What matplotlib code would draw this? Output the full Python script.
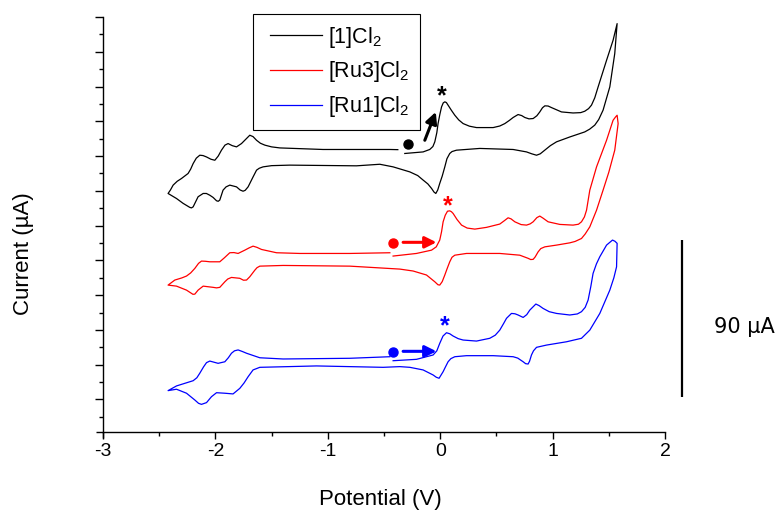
import matplotlib
matplotlib.use("Agg")
import matplotlib.pyplot as plt
from matplotlib.ticker import MultipleLocator, NullFormatter
from matplotlib.legend_handler import HandlerLine2D

plt.rcParams["font.family"] = ["Liberation Sans", "DejaVu Sans"]
plt.rcParams["mathtext.fontset"] = "custom"
plt.rcParams["mathtext.rm"] = "Liberation Sans"
plt.rcParams["mathtext.it"] = "Liberation Sans:italic"
plt.rcParams["mathtext.bf"] = "Liberation Sans:bold"
plt.rcParams["axes.unicode_minus"] = False

# ---------------------------------------------------------------------------
# Cyclic voltammograms (potential in V, current in uA, curves offset vertically)
# Each scan: start -> anodic sweep to +1.57 V -> cathodic sweep to -2.42 V -> back
# ---------------------------------------------------------------------------
labels = ["[1]Cl$_2$", "[Ru3]Cl$_2$", "[Ru1]Cl$_2$"]
colors = ["#000000", "#ff0000", "#0000ff"]

# [1]Cl2
l1_E = [-0.315, -0.152, -0.093, -0.065, -0.048, -0.030, -0.019, -0.003, 0.012, 0.027,
        0.041, 0.055, 0.070, 0.100, 0.130, 0.165, 0.204, 0.260, 0.323, 0.471,
        0.530, 0.575, 0.615, 0.649, 0.693, 0.725, 0.753, 0.790, 0.827, 0.860,
        0.886, 0.910, 0.931, 0.960, 0.990, 1.079, 1.182, 1.250, 1.286, 1.320,
        1.346, 1.375, 1.405, 1.480, 1.538, 1.574,
        1.553, 1.509, 1.449, 1.410, 1.375, 1.330, 1.286, 1.153, 1.035, 0.980,
        0.931, 0.890, 0.857, 0.815, 0.768, 0.649, 0.352, 0.145, 0.105, 0.085,
        0.060, 0.041, 0.018, -0.004, -0.022, -0.039, -0.055, -0.077, -0.110, -0.152,
        -0.200, -0.270, -0.419, -0.537, -0.745, -1.338, -1.500, -1.576, -1.610, -1.634,
        -1.665, -1.709, -1.735, -1.754, -1.780, -1.812, -1.872, -1.905, -1.932, -1.961,
        -1.975, -1.990, -2.020, -2.050, -2.080, -2.109, -2.154, -2.178, -2.198, -2.213,
        -2.228, -2.287, -2.346, -2.395, -2.421,
        -2.400, -2.376, -2.340, -2.302, -2.243, -2.220, -2.198, -2.170, -2.139, -2.110,
        -2.079, -2.040, -2.005, -1.975, -1.946, -1.915, -1.887, -1.850, -1.812, -1.768,
        -1.723, -1.694, -1.665, -1.634, -1.600, -1.560, -1.500, -1.427, -1.042, -0.448,
        -0.377]
l1_I = [161.5, 162.4, 163.8, 165.5, 168.2, 173.5, 178.7, 184.0, 188.3, 190.6,
        191.2, 190.8, 189.3, 186.3, 183.5, 180.8, 178.7, 177.2, 176.4, 176.4,
        177.3, 178.7, 180.5, 182.2, 183.9, 183.3, 182.2, 181.4, 181.6, 183.2,
        185.4, 187.8, 188.9, 188.8, 187.9, 185.4, 184.8, 185.0, 185.8, 187.3,
        189.3, 193.5, 199.8, 215.1, 226.6, 236.2,
        219.0, 199.8, 186.4, 181.0, 177.8, 175.5, 173.9, 171.0, 168.2, 166.0,
        163.4, 161.3, 160.5, 161.3, 162.4, 163.8, 164.4, 163.4, 162.6, 161.5,
        158.5, 153.8, 148.5, 144.3, 140.5, 138.5, 139.3, 141.4, 144.0, 146.2,
        148.8, 150.9, 153.8, 155.3, 154.4, 154.8, 154.5, 153.8, 153.0, 151.9,
        148.0, 142.3, 140.3, 139.8, 140.5, 142.3, 143.3, 142.3, 140.4, 134.7,
        134.0, 134.3, 136.2, 137.5, 138.5, 138.5, 136.6, 133.5, 130.8, 130.2,
        130.5, 132.8, 135.6, 137.5, 138.5,
        140.5, 143.3, 145.5, 147.1, 150.0, 152.5, 155.7, 158.8, 160.5, 160.3,
        159.5, 158.2, 157.6, 160.0, 163.4, 166.3, 167.2, 166.0, 165.3, 167.2,
        170.1, 172.0, 171.2, 169.1, 167.4, 166.3, 165.3, 164.7, 163.8, 163.8,
        163.7]

# [Ru3]Cl2
ru3_E = [-0.419, -0.211, -0.077, -0.035, -0.004, 0.012, 0.026, 0.045, 0.065, 0.085,
         0.100, 0.115, 0.150, 0.190, 0.240, 0.308, 0.412, 0.530, 0.570, 0.604,
         0.630, 0.664, 0.720, 0.768, 0.800, 0.827, 0.860, 0.886, 0.915, 0.960,
         1.064, 1.182, 1.230, 1.257, 1.283, 1.302, 1.331, 1.391, 1.480, 1.538,
         1.560, 1.574,
         1.583, 1.553, 1.500, 1.449, 1.391, 1.331, 1.290, 1.257, 1.200, 1.153,
         1.035, 0.931, 0.895, 0.871, 0.845, 0.827, 0.805, 0.782, 0.708, 0.530,
         0.234, 0.130, 0.105, 0.085, 0.063, 0.041, 0.018, -0.004, -0.020, -0.048,
         -0.122, -0.241, -0.359, -0.804, -1.398, -1.605, -1.630, -1.649, -1.694, -1.723,
         -1.750, -1.783, -1.857, -1.890, -1.916, -1.961, -1.990, -2.020, -2.109, -2.154,
         -2.183, -2.200, -2.257, -2.346, -2.421,
         -2.361, -2.300, -2.257, -2.220, -2.183, -2.150, -2.124, -2.090, -2.050, -1.961,
         -1.920, -1.872, -1.835, -1.798, -1.738, -1.700, -1.665, -1.630, -1.590, -1.456,
         -1.249, -0.804, -0.448]
ru3_I = [102.5, 104.0, 105.9, 107.8, 111.7, 116.5, 122.2, 126.0, 128.3, 128.5,
         128.0, 127.0, 123.5, 120.3, 118.6, 118.0, 119.0, 120.9, 122.8, 124.5,
         123.9, 122.2, 120.6, 120.3, 121.0, 122.2, 124.6, 125.5, 124.3, 122.2,
         120.7, 120.3, 120.8, 122.2, 125.0, 128.9, 140.4, 153.8, 169.1, 180.6,
         182.5, 183.5,
         178.7, 163.4, 150.7, 140.4, 128.9, 119.3, 115.2, 112.6, 110.9, 110.1,
         108.8, 107.8, 106.8, 104.9, 102.0, 100.6, 100.5, 101.2, 103.0, 104.0,
         104.0, 103.0, 101.8, 99.2, 95.5, 91.6, 87.8, 85.8, 86.0, 87.7,
         91.6, 93.9, 95.0, 96.7, 97.1, 96.7, 95.8, 94.4, 90.6, 88.7,
         88.6, 89.7, 90.2, 89.3, 87.7, 84.5, 84.2, 84.5, 85.2, 82.9,
         80.6, 80.5, 82.9, 85.2, 85.8,
         88.7, 89.9, 91.0, 92.8, 95.4, 98.3, 99.6, 99.5, 99.2, 99.2,
         101.5, 104.4, 104.5, 104.0, 105.9, 107.2, 108.2, 107.5, 106.3, 104.4,
         104.0, 104.0, 104.4]

# [Ru1]Cl2
ru1_E = [-0.419, -0.211, -0.063, -0.030, -0.004, 0.025, 0.056, 0.085, 0.115, 0.160,
         0.204, 0.323, 0.441, 0.490, 0.530, 0.565, 0.590, 0.634, 0.665, 0.693,
         0.738, 0.770, 0.797, 0.851, 0.880, 0.915, 0.970, 1.035, 1.153, 1.220,
         1.257, 1.290, 1.316, 1.340, 1.360, 1.390, 1.420, 1.480, 1.533, 1.555,
         1.574, 1.569, 1.545, 1.509, 1.420, 1.331, 1.257, 1.124, 0.946, 0.857,
         0.830, 0.812, 0.795, 0.782, 0.760, 0.738, 0.690, 0.649, 0.471, 0.234,
         0.130, 0.095, 0.070, 0.045, 0.026, -0.010, -0.035, -0.063, -0.152, -0.270,
         -0.359, -0.508, -1.101, -1.605, -1.665, -1.709, -1.745, -1.783, -1.843, -1.916,
         -1.990, -2.035, -2.079, -2.124, -2.150, -2.183, -2.257, -2.346, -2.421,
         -2.346, -2.198, -2.165, -2.139, -2.105, -2.079, -2.050, -2.010, -1.976, -1.916,
         -1.885, -1.857, -1.830, -1.798, -1.760, -1.723, -1.605, -1.398, -0.804, -0.448]
ru1_I = [42.3, 43.1, 45.6, 48.0, 52.3, 56.5, 58.4, 57.8, 56.5, 55.0,
         54.2, 53.6, 55.2, 57.0, 59.9, 63.8, 66.7, 69.5, 69.3, 68.6,
         67.2, 68.8, 71.4, 74.9, 74.0, 72.4, 70.5, 69.5, 68.6, 69.2,
         70.5, 73.0, 77.2, 85.0, 92.5, 98.0, 102.1, 108.8, 111.7, 111.0,
         109.8, 96.3, 90.0, 82.9, 69.5, 59.9, 55.2, 53.2, 51.3, 50.0,
         48.0, 45.6, 42.0, 40.4, 40.6, 41.7, 43.8, 44.6, 45.2, 45.2,
         44.6, 43.5, 41.7, 38.5, 36.0, 32.2, 32.8, 34.1, 37.0, 38.5,
         38.9, 38.5, 39.3, 38.5, 37.0, 33.1, 29.5, 26.4, 23.2, 23.6,
         23.9, 21.6, 18.2, 17.2, 17.8, 19.7, 23.6, 25.9, 25.1,
         27.8, 30.8, 32.5, 35.1, 38.8, 41.2, 42.1, 41.4, 40.8, 41.7,
         44.0, 46.6, 48.0, 48.5, 47.6, 46.6, 44.0, 43.3, 43.7, 44.6]

# starting points of each scan (filled dots)
start_E = [-0.288, -0.419, -0.419]
start_I = [166.8, 110.1, 47.5]

# scan-direction arrows: (tail E, tail I, head E, head I)
arrows = [(-0.137, 169.1, -0.039, 185.4),
          (-0.330, 110.4, -0.033, 110.4),
          (-0.330, 47.7, -0.033, 47.7)]

# asterisk marks on the ligand-centred wave
star_E = [0.012, 0.070, 0.041]
star_I = [190.6, 126.8, 57.9]

scale_bar_ua = 90
scale_bar_E = 2.147
scale_bar_top = 111.7

# ---------------------------------------------------------------------------
fig = plt.figure(figsize=(7.78, 5.12), dpi=100)
ax = fig.add_axes([103 / 778, 80 / 512, 562 / 778, 415 / 512])

series = [(l1_E, l1_I), (ru3_E, ru3_I), (ru1_E, ru1_I)]
handles = []
for (E, I), c, lab in zip(series, colors, labels):
    h, = ax.plot(E, I, color=c, lw=0.9, label=lab, solid_joinstyle="round")
    handles.append(h)

for i, c in enumerate(colors):
    ax.plot(start_E[i], start_I[i], "o", color=c, ms=6.5, mec=c, zorder=5)
    x0, y0, x1, y1 = arrows[i]
    ax.annotate("", xy=(x1, y1), xytext=(x0, y0),
                arrowprops=dict(arrowstyle="-|>", color=c, lw=2.2,
                                mutation_scale=17, shrinkA=0, shrinkB=0))
    ax.text(star_E[i], star_I[i], "*", color=c, fontsize=18, fontweight="bold",
            ha="center", va="baseline")

# scale bar
ax.plot([scale_bar_E, scale_bar_E], [scale_bar_top, scale_bar_top - scale_bar_ua],
        color="black", lw=1.6, clip_on=False, solid_capstyle="butt")
ax.text(2.44, scale_bar_top - scale_bar_ua / 2 - 5, f"{scale_bar_ua} µA",
        ha="left", va="center", fontsize=15, family="DejaVu Sans")

ax.set_xlim(-3, 2)
ax.set_ylim(1.3, 240.001)
ax.xaxis.set_major_locator(MultipleLocator(1))
ax.xaxis.set_minor_locator(MultipleLocator(0.5))
ax.yaxis.set_major_locator(MultipleLocator(20))
ax.yaxis.set_minor_locator(MultipleLocator(10))
ax.yaxis.set_major_formatter(NullFormatter())

for s in ("top", "right"):
    ax.spines[s].set_visible(False)
for s in ("left", "bottom"):
    ax.spines[s].set_linewidth(1.0)

ax.tick_params(axis="x", which="major", direction="out", length=5, width=1.0,
               labelsize=14, pad=3)
ax.tick_params(axis="x", which="minor", direction="out", length=3, width=1.0)
ax.tick_params(axis="y", which="major", direction="out", length=6, width=1.0)
ax.tick_params(axis="y", which="minor", direction="out", length=3, width=1.0)

# small overhang of the axis lines past their crossing point
ax.plot([-7 / 562, 0], [0, 0], transform=ax.transAxes, color="black", lw=1.0,
        clip_on=False, solid_capstyle="butt")
ax.plot([0, 0], [0, -6 / 415], transform=ax.transAxes, color="black", lw=1.0,
        clip_on=False, solid_capstyle="butt")

ax.set_xlabel("Potential (V)", fontsize=16)
ax.xaxis.label.set_va("center")
ax.xaxis.set_label_coords(0.493, -68 / 415)
ax.set_ylabel("Current (µA)", fontsize=16)
ax.yaxis.label.set_va("center")
ax.yaxis.set_label_coords(-79 / 562, 0.429)

leg = ax.legend(handles, labels, loc="upper left",
                bbox_to_anchor=(253 / 778, 1 - 14 / 512), bbox_transform=fig.transFigure,
                borderaxespad=0, frameon=True, fancybox=False, edgecolor="black",
                fontsize=15.5, handlelength=2.71, handletextpad=0.28,
                labelspacing=0.45, borderpad=0.5, framealpha=1,
                handler_map={h: HandlerLine2D(xpad=0.29) for h in handles})
leg.get_frame().set_linewidth(0.8)

fig.savefig("out.png", dpi=100)
